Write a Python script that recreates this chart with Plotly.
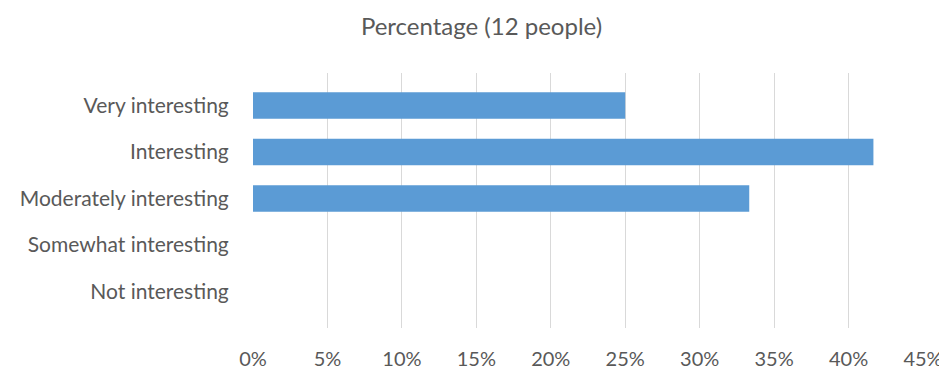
import plotly.graph_objects as go

categories = ["Very interesting", "Interesting", "Moderately interesting",
              "Somewhat interesting", "Not interesting"]
values = [0.25, 0.4167, 0.3333, 0.0, 0.0]
x_ticks = [0, 0.05, 0.10, 0.15, 0.20, 0.25, 0.30, 0.35, 0.40, 0.45]
x_ticklabels = ["0%", "5%", "10%", "15%", "20%", "25%", "30%", "35%", "40%", "45%"]
title_text = "Percentage (12 people)"

FONT = "Lato"
TXT = "#595959"

fig = go.Figure(go.Bar(
    x=values, y=categories, orientation="h",
    marker=dict(color="#5B9BD5", line=dict(width=0)),
    hoverinfo="x+y",
))

fig.update_layout(
    width=947, height=374,
    margin=dict(l=239, r=24, t=65, b=46),
    paper_bgcolor="white", plot_bgcolor="white",
    bargap=0.43,
    showlegend=False,
    title=dict(text=title_text, x=0.5, xanchor="center", y=1 - 19/374, yanchor="middle",
               font=dict(family=FONT, size=24, color=TXT)),
    font=dict(family=FONT, color=TXT, size=20),
    xaxis=dict(range=[0, 0.45], tickvals=x_ticks, ticktext=x_ticklabels,
               showgrid=True, gridcolor="#D9D9D9", gridwidth=1,
               zeroline=False, showline=False, ticks="outside", ticklen=13,
               tickcolor="rgba(0,0,0,0)", tickfont=dict(family=FONT, size=20, color=TXT),
               fixedrange=True),
    yaxis=dict(type="category", categoryorder="array", categoryarray=categories,
               range=[4.79, -0.70], showgrid=False, zeroline=False, showline=False,
               ticks="outside", ticklen=19, tickcolor="rgba(0,0,0,0)",
               tickfont=dict(family=FONT, size=21, color=TXT), fixedrange=True),
)

fig.write_html("out.html")
